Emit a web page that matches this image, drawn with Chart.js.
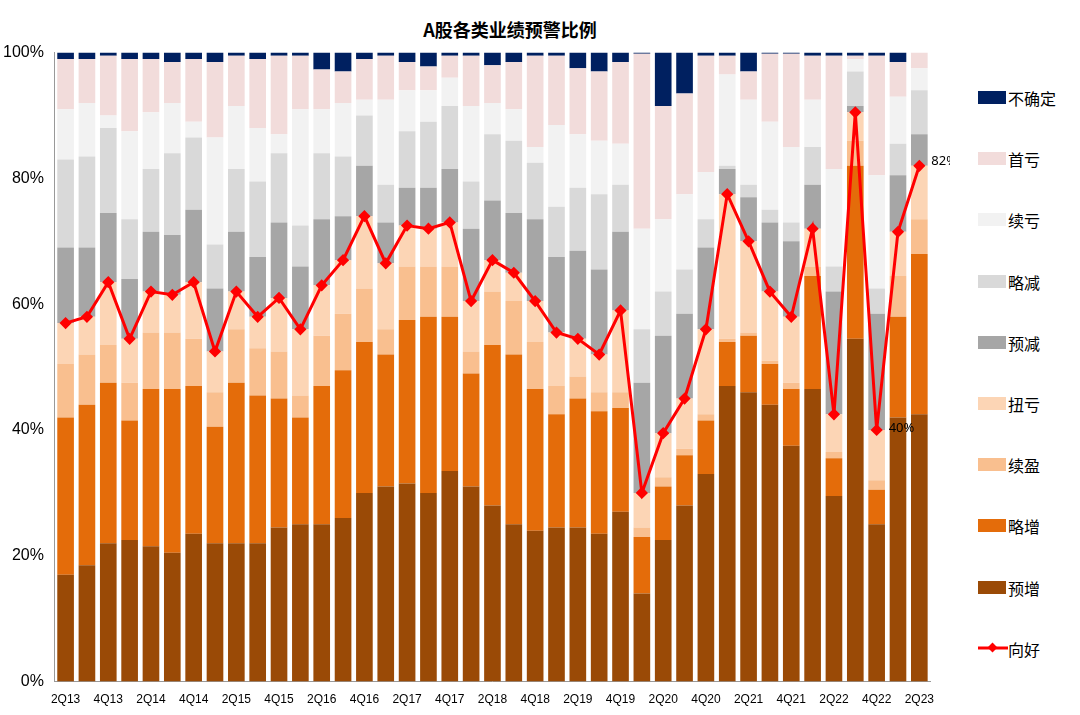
<!DOCTYPE html>
<html><head><meta charset="utf-8">
<script src="https://cdn.jsdelivr.net/npm/chart.js@4"></script>
<style>
body{margin:0;background:#fff;font-family:"Noto Sans CJK SC","Noto Sans",sans-serif;}
#wrap{position:relative;width:1080px;height:715px;}
#title{position:absolute;top:16px;left:0;width:1080px;text-align:center;font-weight:bold;font-size:18px;color:#000;padding-right:60px;box-sizing:border-box}
#cv{position:absolute;left:0;top:40px;}
#legend{position:absolute;left:978px;top:86px;font-size:16px;}
.li{height:61.2px;display:flex;align-items:flex-start;}
.sw{width:28px;height:13px;margin-top:5px;margin-right:2px;}
</style></head><body>
<div id="wrap"><div id="title">A股各类业绩预警比例</div>
<canvas id="cv" width="950" height="670"></canvas><div id="legend"></div></div>
<script>
const categories=["2Q13","3Q13","4Q13","1Q14","2Q14","3Q14","4Q14","1Q15","2Q15","3Q15","4Q15","1Q16","2Q16","3Q16","4Q16","1Q17","2Q17","3Q17","4Q17","1Q18","2Q18","3Q18","4Q18","1Q19","2Q19","3Q19","4Q19","1Q20","2Q20","3Q20","4Q20","1Q21","2Q21","3Q21","4Q21","1Q22","2Q22","3Q22","4Q22","1Q23","2Q23"];
// cumulative boundaries (%): 预增,略增,续盈,扭亏,预减,略减,续亏,首亏 tops (不确定 top = 100)
const cumTops=[
[17,42,50.5,57,69,83,91,99],[18.5,44,52,58,69,83.5,92,99],[22,47.5,53.5,63.5,74.5,88,90,99.5],[22.5,41.5,47.5,54.5,64,73.5,87.5,99],
[21.5,46.5,55.5,62,71.5,81.5,90.5,99],[20.5,46.5,55.5,61.5,71,84,92,98.5],[23.5,47,54.5,63.5,75,86.5,89,99],[22,40.5,46,52.5,62.5,69.5,86.5,98.5],
[22,47.5,56,62,71.5,81.5,91.5,99.5],[22,45.5,53,58,67.5,79.5,88,99],[24.5,45,52.5,61,73,84,87,99.5],[25,42,45.5,56,66,72.5,91,99.5],
[25,47,55,63,73.5,84,91,97.3],[26,49.5,58.5,67,74,83.5,92,97],[30,54,62.5,74,82,90,92.5,99],[31,52,56,66.5,73,79,92.5,99.5],
[31.5,57.5,66,72.5,78.5,87.5,94,98.5],[30,58,66,72,78.5,89,94,97.8],[33.5,58,66,73,81.5,91.5,96,99.5],[31,49,52.5,60.5,72,79.5,91.5,99.5],
[28,53.5,62,67,76.5,87,92,98],[25,52,60.5,65,74.5,86,91,98.5],[24,46.5,54,60.5,73.5,82.5,85,99.5],[24.5,42.5,47,55.5,67.5,75.5,88.5,99.5],
[24.5,45,48.5,54.5,68.5,78.5,87,97.5],[23.5,43,46,52,65.5,77.5,86,97],[27,43.5,46,59,71.5,79,85.5,98.5],[14,23,24.5,30,47.5,56,72,99.8],
[22.5,31,32.5,39.5,55,62,73.5,91.5],[28,36,37,45,58.5,65.5,77.5,93.5],[33,41.5,42.5,56,69,73.5,81,99.5],[47,54,54.5,77.5,81.5,82,96.5,99.5],
[46,55,55.5,70,77,79,92.5,97],[44,50.5,51,62,73,75,89,99.8],[37.5,46.5,47.5,58,70,73,85,99.8],[46.5,64.5,66,72,79,85,92.5,99.5],
[29.5,35.5,36.5,42.5,62,66,81.5,99.5],[54.5,82,86,90.5,91.5,97,99,99.5],[25,30.5,32,40,58.5,62.5,80.5,99.5],[42,58,64.5,71.5,80.5,85.5,93,98.5],
[42.5,68,73.5,82,87,94,97.5,100]];
const seriesNames=["预增","略增","续盈","扭亏","预减","略减","续亏","首亏","不确定"];
const colors=["#9A4A06","#E46C0A","#F9BF8F","#FCD5B5","#A6A6A6","#D9D9D9","#F2F2F2","#F2DCDB","#002060"];
const seriesValues=seriesNames.map((n,s)=>cumTops.map(r=>{const full=r.concat([100]);return +(full[s]-(s?full[s-1]:0)).toFixed(2);}));
const goodValues=cumTops.map(r=>r[3]);
const yTicks=[0,20,40,60,80,100];
const datasets=seriesNames.map((n,i)=>({type:'bar',label:n,data:seriesValues[i],backgroundColor:colors[i],stack:'s',order:2,categoryPercentage:1,barPercentage:0.78}));
datasets.push({type:'line',label:'向好',data:goodValues,borderColor:'#FF0000',backgroundColor:'#FF0000',borderWidth:3,pointStyle:'rectRot',pointRadius:4,order:1});
const labelPlugin={id:'lbl',afterDatasetsDraw(c){const m=c.getDatasetMeta(9);const ctx=c.ctx;ctx.save();ctx.font='13px "Noto Sans"';ctx.fillStyle='#000';ctx.textBaseline='middle';
[38,40].forEach(i=>{const p=m.data[i];ctx.fillText(Math.round(goodValues[i])+'%',p.x+12,p.y+(i==38?-2:-5));});ctx.restore();}};
new Chart(document.getElementById('cv'),{data:{labels:categories,datasets},plugins:[labelPlugin],
options:{responsive:false,animation:false,layout:{padding:{left:0,right:20,top:10,bottom:0}},
plugins:{legend:{display:false},tooltip:{enabled:false}},
scales:{x:{stacked:true,grid:{display:false},border:{color:'#999'},ticks:{autoSkip:false,maxRotation:0,color:'#000',font:{size:12},callback:(v,i)=>i%2==0?categories[i]:''}},
y:{stacked:true,min:0,max:100,afterBuildTicks:a=>{a.ticks=yTicks.map(v=>({value:v}));},grid:{display:false},border:{color:'#999'},ticks:{color:'#000',font:{size:16},callback:v=>v+'%'}}}}});
const lg=document.getElementById('legend');
const order=[8,7,6,5,4,3,2,1,0];
order.forEach(i=>{lg.innerHTML+=`<div class="li"><div class="sw" style="background:${colors[i]}"></div>${seriesNames[i]}</div>`;});
lg.innerHTML+=`<div class="li"><svg width="30" height="20" style="margin-right:0"><line x1="0" y1="11" x2="30" y2="11" stroke="#f00" stroke-width="3"/><rect x="11" y="7" width="7" height="7" fill="#f00" transform="rotate(45 14.5 10.5)"/></svg>向好</div>`;
</script></body></html>
